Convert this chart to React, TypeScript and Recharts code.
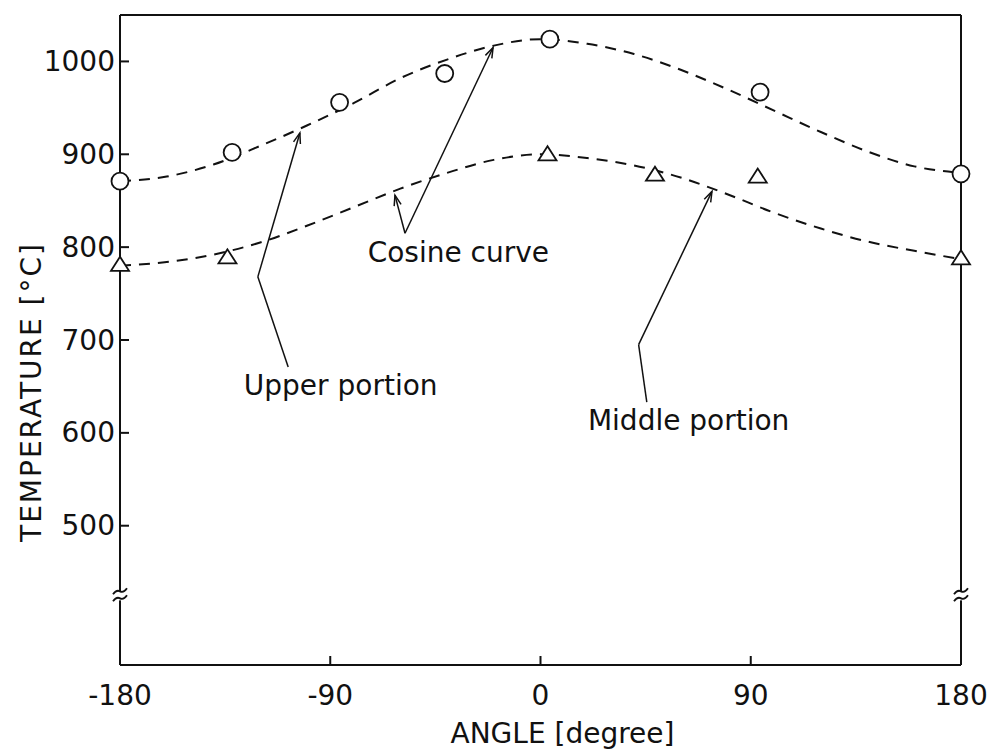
import React from 'react';
import {
  ComposedChart, Line, Scatter, XAxis, YAxis, ReferenceLine, ReferenceDot,
} from 'recharts';

// ---- data ----
const curveAngles = [-180, -160, -140, -120, -100, -80, -60, -40, -20, 0, 20, 40, 60, 80, 100, 120, 140, 160, 180];
const upperCurve = [871, 876, 889, 909, 931, 955, 982, 1002, 1017, 1024, 1019, 1008, 991, 970, 947, 924, 903, 887, 880];
const middleCurve = [780, 784, 792, 805, 823, 843, 863, 880, 894, 900, 896, 888, 875, 857, 837, 820, 806, 796, 787];

const upperAngles = [-180, -132, -86, -41, 4, 94, 180];
const upperTemps = [871, 902, 956, 987, 1024, 967, 879];
const middleAngles = [-180, -134, 3, 49, 93, 180];
const middleTemps = [781, 789, 900, 878, 876, 788];

const xTicks = [-180, -90, 0, 90, 180];
const yTicks = [500, 600, 700, 800, 900, 1000];
const xDomain = [-180, 180];
const yDomain = [350, 1050];
const breakValue = 425;

// annotations (data coordinates)
const labelTexts = ['Cosine curve', 'Upper portion', 'Middle portion'];
const labelAngles = [-74, -127, 20.3];
const labelTemps = [784, 641, 603];
// leader segments
const leaderFrom = [[-58, 815], [-58, 815], [-108, 671], [-121, 768], [45.5, 633], [42, 695]];
const leaderTo = [[-62.3, 856], [-20.3, 1015], [-121, 768], [-103, 923], [42, 695], [73.4, 860]];
const leaderArrow = [true, true, false, true, false, true];

const FONT = 'DejaVu Sans';
const INK = '#111';

const toPts = (xs: number[], ys: number[]) => xs.map((x, i) => ({ x, y: ys[i] }));
const upperCurveData = toPts(curveAngles, upperCurve);
const middleCurveData = toPts(curveAngles, middleCurve);
const upperPts = toPts(upperAngles, upperTemps);
const middlePts = toPts(middleAngles, middleTemps);

const TICK_LEN = 9;

const LeftTick = (p: any) => {
  const { x, y, payload } = p;
  return (
    <g>
      <line x1={x} x2={x + TICK_LEN} y1={y} y2={y} stroke={INK} strokeWidth={2} />
      <text x={x - 5} y={y} textAnchor="end" dominantBaseline="central" fontFamily={FONT} fontSize={28} fill={INK}>
        {payload.value}
      </text>
    </g>
  );
};
const RightTick = (p: any) => {
  const { x, y } = p;
  return <line x1={x} x2={x - TICK_LEN} y1={y} y2={y} stroke={INK} strokeWidth={2} />;
};
const BottomTick = (p: any) => {
  const { x, y, payload } = p;
  const interior = payload.value > xDomain[0] && payload.value < xDomain[1];
  return (
    <g>
      {interior && <line x1={x} x2={x} y1={y} y2={y - TICK_LEN} stroke={INK} strokeWidth={2} />}
      <text x={x} y={y + 40} textAnchor="middle" fontFamily={FONT} fontSize={28} fill={INK}>
        {payload.value}
      </text>
    </g>
  );
};
const TopTick = (p: any) => {
  const { x, y, payload } = p;
  const interior = payload.value > xDomain[0] && payload.value < xDomain[1];
  if (!interior) return <g />;
  return <line x1={x} x2={x} y1={y} y2={y + TICK_LEN} stroke={INK} strokeWidth={2} />;
};

const CircleShape = (p: any) => (
  <circle cx={p.cx} cy={p.cy} r={8.5} fill="#fff" stroke={INK} strokeWidth={1.8} />
);
const TriangleShape = (p: any) => (
  <polygon
    points={`${p.cx},${p.cy - 8} ${p.cx - 9},${p.cy + 6} ${p.cx + 9},${p.cy + 6}`}
    fill="#fff" stroke={INK} strokeWidth={1.8}
  />
);

const BreakShape = (p: any) => {
  const { cx, cy } = p;
  return (
    <g>
      <rect x={cx - 4} y={cy - 4} width={8} height={9} fill="#fff" />
      <path d={`M${cx - 7},${cy - 1} q3.5,-5 7,-3 t7,-3`} fill="none" stroke={INK} strokeWidth={1.8} />
      <path d={`M${cx - 7},${cy + 6} q3.5,-5 7,-3 t7,-3`} fill="none" stroke={INK} strokeWidth={1.8} />
    </g>
  );
};

const makeLeader = (arrow: boolean) => (p: any) => {
  const { x1, y1, x2, y2 } = p;
  if ([x1, y1, x2, y2].some((v) => v === undefined || isNaN(v))) return <g />;
  const ang = Math.atan2(y2 - y1, x2 - x1);
  const L = 11;
  const a1 = ang + Math.PI - 0.33;
  const a2 = ang + Math.PI + 0.33;
  return (
    <g>
      <line x1={x1} y1={y1} x2={x2} y2={y2} stroke={INK} strokeWidth={1.5} />
      {arrow && (
        <path
          d={`M${x2 + L * Math.cos(a1)},${y2 + L * Math.sin(a1)} L${x2},${y2} L${x2 + L * Math.cos(a2)},${y2 + L * Math.sin(a2)}`}
          fill="none" stroke={INK} strokeWidth={1.5}
        />
      )}
    </g>
  );
};

const makeText = (label: string) => (p: any) => (
  <text x={p.cx} y={p.cy} fontFamily={FONT} fontSize={28} fill={INK}>{label}</text>
);

const YLabel = (p: any) => {
  const vb = p.viewBox || {};
  const cx = vb.x + 11;
  const cy = vb.y + vb.height / 2 + 52;
  return (
    <text x={cx} y={cy} transform={`rotate(-90 ${cx} ${cy})`} textAnchor="middle" dominantBaseline="central"
      fontFamily={FONT} fontSize={28} letterSpacing={2} fill={INK}>
      TEMPERATURE [°C]
    </text>
  );
};
const XLabel = (p: any) => {
  const vb = p.viewBox || {};
  return (
    <text x={vb.x + vb.width / 2 + 22} y={vb.y + 78} textAnchor="middle" fontFamily={FONT} fontSize={28} fill={INK}>
      ANGLE [degree]
    </text>
  );
};

export default function App() {
  return (
    <div style={{ position: 'absolute', left: 0, top: 0, width: 993, height: 753, background: '#fff' }}>
      <ComposedChart width={993} height={753} margin={{ top: 14, right: 31, bottom: 0, left: 20 }}>
        <XAxis
          type="number" dataKey="x" domain={xDomain} ticks={xTicks} interval={0}
          tickSize={0} tickMargin={0} tick={<BottomTick />} height={88}
          axisLine={{ stroke: INK, strokeWidth: 2 }} label={<XLabel />}
        />
        <XAxis
          xAxisId="top" orientation="top" type="number" dataKey="x" domain={xDomain} ticks={xTicks} interval={0}
          tickSize={0} tickMargin={0} tick={<TopTick />} height={1}
          axisLine={{ stroke: INK, strokeWidth: 2 }}
        />
        <YAxis
          type="number" dataKey="y" domain={yDomain} ticks={yTicks} interval={0}
          tickSize={0} tickMargin={0} tick={<LeftTick />} width={100}
          axisLine={{ stroke: INK, strokeWidth: 2 }} label={<YLabel />}
        />
        <YAxis
          yAxisId="right" orientation="right" type="number" dataKey="y" domain={yDomain} ticks={yTicks} interval={0}
          tickSize={0} tickMargin={0} tick={<RightTick />} width={1}
          axisLine={{ stroke: INK, strokeWidth: 2 }}
        />

        <Line data={upperCurveData} dataKey="y" type="monotone" stroke={INK} strokeWidth={2}
          strokeDasharray="11 8" dot={false} activeDot={false} isAnimationActive={false} />
        <Line data={middleCurveData} dataKey="y" type="monotone" stroke={INK} strokeWidth={2}
          strokeDasharray="11 8" dot={false} activeDot={false} isAnimationActive={false} />

        {leaderFrom.map((f, i) => (
          <ReferenceLine key={'l' + i} segment={[{ x: f[0], y: f[1] }, { x: leaderTo[i][0], y: leaderTo[i][1] }]}
            ifOverflow="visible" shape={makeLeader(leaderArrow[i])} />
        ))}
        {labelTexts.map((t, i) => (
          <ReferenceDot key={'t' + i} x={labelAngles[i]} y={labelTemps[i]} ifOverflow="visible" shape={makeText(t)} />
        ))}
        <ReferenceDot x={xDomain[0]} y={breakValue} ifOverflow="visible" shape={BreakShape} />
        <ReferenceDot x={xDomain[1]} y={breakValue} ifOverflow="visible" shape={BreakShape} />

        <Scatter data={upperPts} dataKey="y" shape={CircleShape} isAnimationActive={false} />
        <Scatter data={middlePts} dataKey="y" shape={TriangleShape} isAnimationActive={false} />
      </ComposedChart>
    </div>
  );
}
